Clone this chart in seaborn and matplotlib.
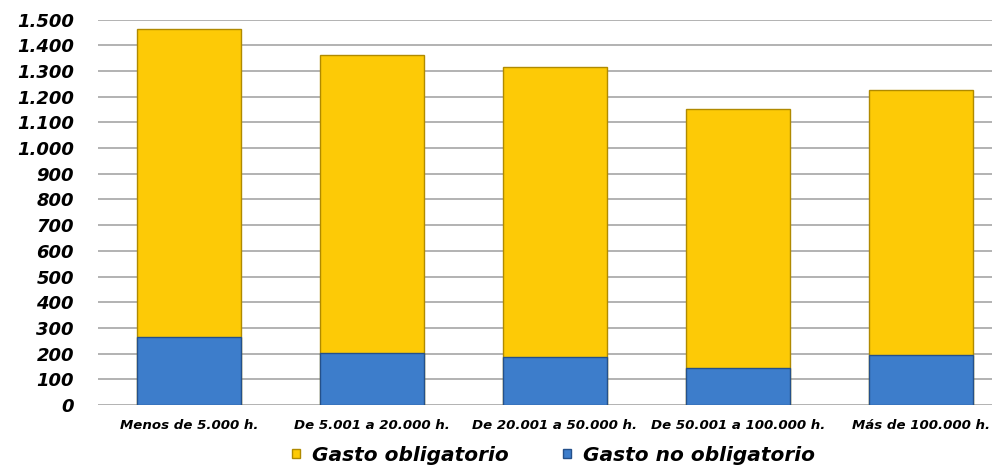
import matplotlib
matplotlib.use("Agg")
import matplotlib.pyplot as plt
import seaborn as sns
import pandas as pd
from matplotlib.patches import Patch

# Gasto por habitante segun tramo de poblacion
tramos = ["Menos de 5.000 h.", "De 5.001 a 20.000 h.", "De 20.001 a 50.000 h.",
          "De 50.001 a 100.000 h.", "Más de 100.000 h."]
gasto_no_obligatorio = [266, 203, 188, 144, 195]
gasto_obligatorio = [1196, 1157, 1128, 1006, 1031]

df = pd.DataFrame({"tramo": tramos,
                   "no_oblig": gasto_no_obligatorio,
                   "oblig": gasto_obligatorio})
df["total"] = df["no_oblig"] + df["oblig"]

sns.set_style("white")
plt.rcParams['font.family'] = ['DejaVu Sans']
plt.rcParams['text.color'] = 'black'
plt.rcParams['xtick.color'] = 'black'
plt.rcParams['ytick.color'] = 'black'

YELLOW = "#FDCA06"
BLUE = "#3D7DCB"

fig = plt.figure(figsize=(9.92, 4.70), dpi=100)
ax = fig.add_axes([0.0983, 0.138, 0.9017, 0.8205])

for y in range(0, 1501, 100):
    ax.axhline(y, color="#a6a6a6", lw=1.2, zorder=0)

sns.barplot(data=df, x="tramo", y="total", color=YELLOW, width=0.57,
            edgecolor="#b08a00", linewidth=1.0, saturation=1, ax=ax, zorder=2)
sns.barplot(data=df, x="tramo", y="no_oblig", color=BLUE, width=0.57,
            edgecolor="#24508a", linewidth=1.0, saturation=1, ax=ax, zorder=3)

ax.set_ylim(0, 1500)
ax.set_xlim(-0.5, 4.39)
ax.set_yticks(range(0, 1501, 100))
ax.set_yticklabels([f"{v:,}".replace(",", ".") for v in range(0, 1501, 100)],
                   fontsize=13, fontweight="bold", fontstyle="italic")
ax.set_xticks(range(len(tramos)))
ax.set_xticklabels(tramos, fontsize=9.6, fontweight="bold", fontstyle="italic")
ax.tick_params(axis="y", pad=17, length=0)
ax.tick_params(axis="x", pad=10, length=0)
ax.set_xlabel("")
ax.set_ylabel("")
sns.despine(ax=ax, left=True, right=True, top=True, bottom=True)

handles = [Patch(facecolor=YELLOW, edgecolor="#b08a00", label="Gasto obligatorio"),
           Patch(facecolor=BLUE, edgecolor="#24508a", label="Gasto no obligatorio")]
fig.legend(handles=handles, loc="lower center", bbox_to_anchor=(0.558, -0.028),
           ncol=2, frameon=False, handlelength=0.4, handleheight=0.3,
           columnspacing=2.7, handletextpad=0.6,
           prop={"size": 14.5, "weight": "bold", "style": "italic"})

fig.savefig("out.png", dpi=100)
